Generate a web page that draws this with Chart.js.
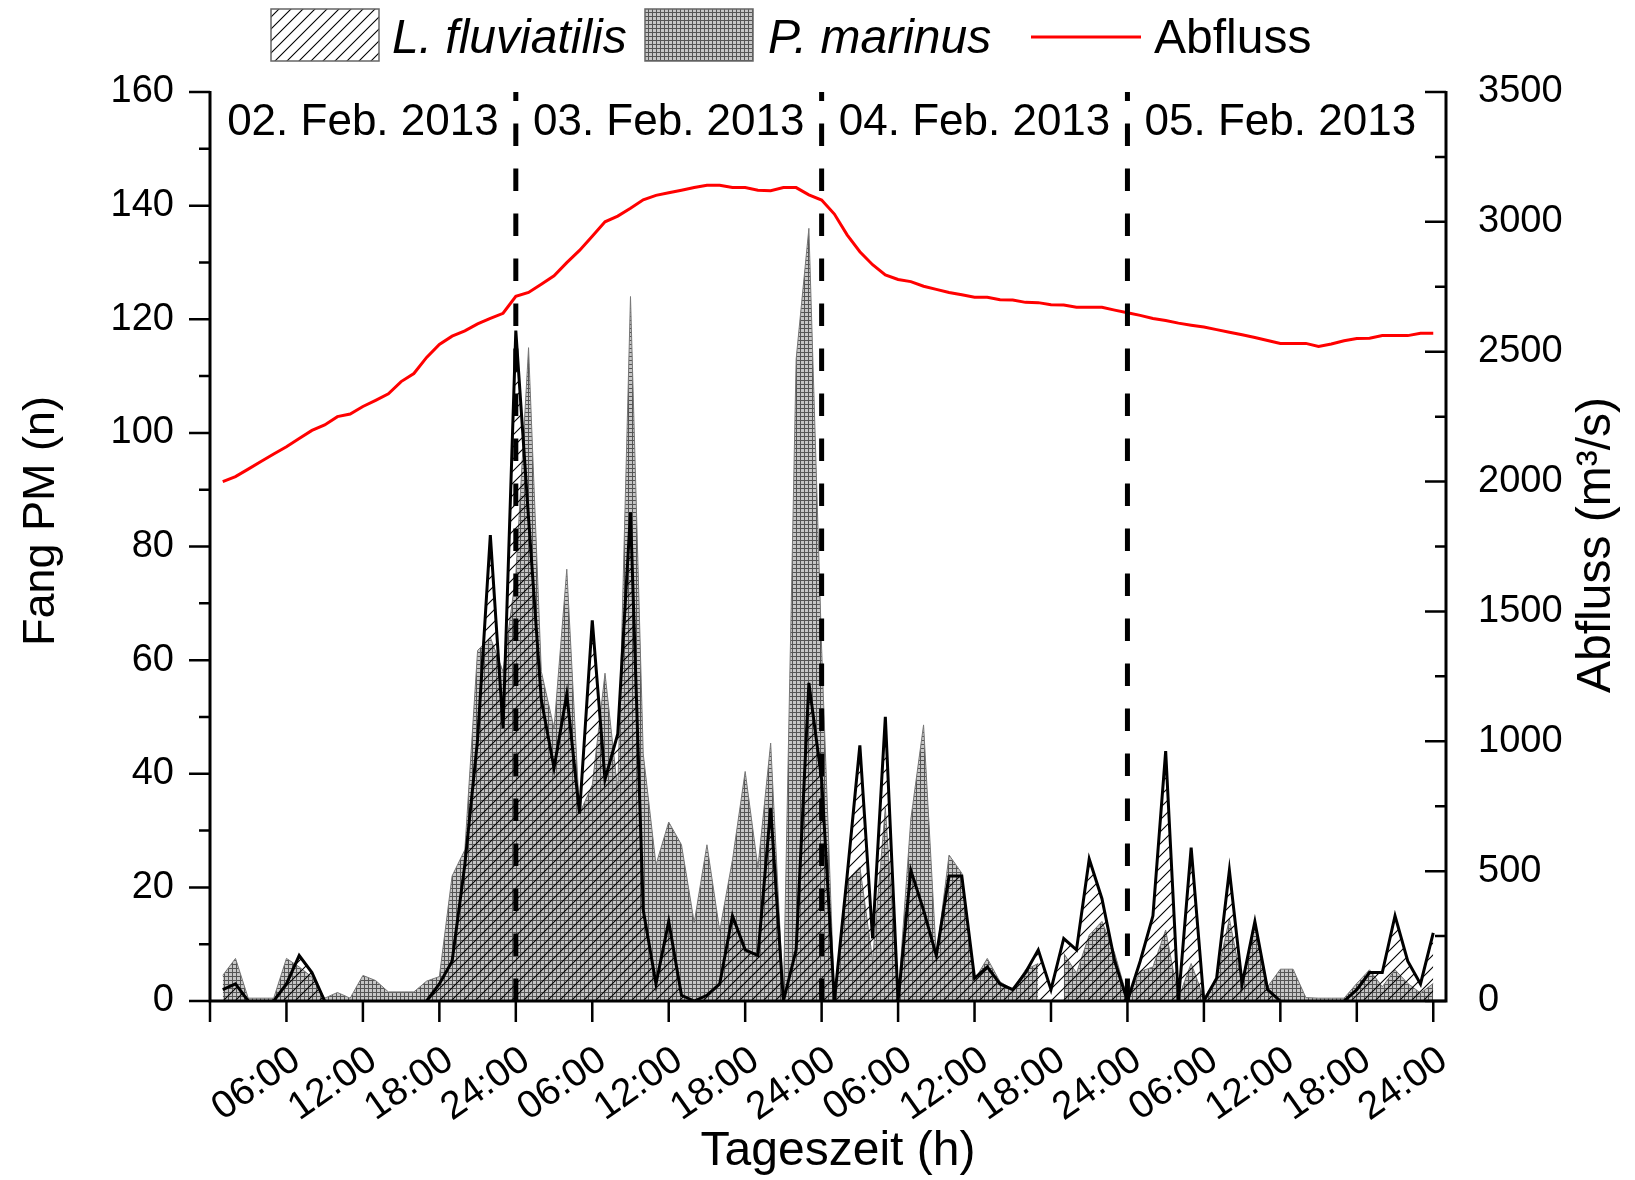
<!DOCTYPE html>
<html>
<head>
<meta charset="utf-8">
<title>Fang PM und Abfluss, 02.-05. Feb. 2013</title>
<script src="https://cdn.jsdelivr.net/npm/chart.js@4.4.1/dist/chart.umd.min.js"></script>
<style>
  body { margin: 0; background: #fff; }
  #wrap { width: 1635px; height: 1180px; position: relative; }
</style>
</head>
<body>
<div id="wrap"><canvas id="fangChart"></canvas></div>
<script>
// Stunde seit 02.02.2013 00:00
var hours = [1, 2, 3, 4, 5, 6, 7, 8, 9, 10, 11, 12, 13, 14, 15, 16, 17, 18, 19, 20, 21, 22, 23, 24,
             25, 26, 27, 28, 29, 30, 31, 32, 33, 34, 35, 36, 37, 38, 39, 40, 41, 42, 43, 44, 45, 46, 47, 48,
             49, 50, 51, 52, 53, 54, 55, 56, 57, 58, 59, 60, 61, 62, 63, 64, 65, 66, 67, 68, 69, 70, 71, 72,
             73, 74, 75, 76, 77, 78, 79, 80, 81, 82, 83, 84, 85, 86, 87, 88, 89, 90, 91, 92, 93, 94, 95, 96];

// Fang pro Stunde (n)
var lFluviatilis = [2, 3, 0, 0, 0, 3, 8, 5, 0, 0,
                    0, 0, 0, 0, 0, 0, 0, 3, 7, 24,
                    46, 82, 48, 118, 85, 53, 41, 54, 33, 67,
                    39, 47, 86, 16, 3, 14, 1, 0, 1, 3,
                    15, 9, 8, 34, 0, 9, 56, 39, 0, 22,
                    45, 11, 50, 0, 23, 16, 8, 22, 22, 4,
                    6, 3, 2, 5, 9, 2, 11, 9, 25, 18,
                    7, 0, 7, 15, 44, 0, 27, 0, 4, 23,
                    3, 14, 2, 0, 0, 0, 0, 0, 0, 2,
                    5, 5, 15, 7, 3, 12];

var pMarinus = [4.5, 7.5, 0.5, 0.5, 0.5, 7.5, 6, 4.2, 0.5, 1.5,
                0.5, 4.5, 3.6, 1.6, 1.6, 1.6, 3.5, 4.3, 22, 26.6,
                61.7, 64, 58, 75, 115, 58, 48, 76, 33, 38,
                57.7, 37, 124, 43.5, 24, 31.5, 27.5, 13.8, 27.5, 12.4,
                24.8, 40.4, 23.5, 45.4, 0.5, 113, 136, 62, 0.5, 21.3,
                23.6, 7.2, 34, 0.5, 32, 48.6, 7.8, 25.7, 22.5, 3.7,
                7.5, 3.4, 2, 5.5, 6.6, null, 8.4, 4.9, 11.6, 14,
                8.4, 0.5, 5.2, 6, 12.5, 0.5, 6.6, 0.5, 4, 14.5,
                2.8, 13.7, 2.5, 5.6, 5.6, 0.6, 0.5, 0.5, 0.5, 3.1,
                5.5, 2.5, 5.5, 3.1, 1.4, 3.1];

// Abfluss (m³/s)
var abfluss = [2000, 2019, 2048, 2077, 2106, 2134, 2166, 2197, 2218, 2250,
               2260, 2289, 2313, 2338, 2385, 2416, 2478, 2528, 2560, 2580,
               2607, 2628, 2648, 2713, 2728, 2760, 2792, 2843, 2890, 2945,
               3000, 3022, 3052, 3085, 3102, 3112, 3122, 3132, 3141, 3141,
               3132, 3132, 3122, 3120, 3132, 3132, 3104, 3084, 3030, 2950,
               2885, 2835, 2796, 2778, 2770, 2752, 2740, 2728, 2719, 2710,
               2710, 2700, 2699, 2690, 2689, 2681, 2680, 2671, 2671, 2671,
               2660, 2650, 2640, 2628, 2620, 2610, 2602, 2595, 2585, 2575,
               2565, 2555, 2543, 2532, 2532, 2532, 2520, 2530, 2542, 2551,
               2552, 2562, 2562, 2562, 2571, 2571];

var tickHours = [0, 6, 12, 18, 24, 30, 36, 42, 48, 54, 60, 66, 72, 78, 84, 90, 96];
var tickLabels = ['', '06:00', '12:00', '18:00', '24:00', '06:00', '12:00', '18:00', '24:00',
                  '06:00', '12:00', '18:00', '24:00', '06:00', '12:00', '18:00', '24:00'];
var dayLabels = ['02. Feb. 2013', '03. Feb. 2013', '04. Feb. 2013', '05. Feb. 2013'];
var dayCenters = [12, 36, 60, 84];
var dayBoundaries = [24, 48, 72];

var FONT = "'Liberation Sans', Arial, sans-serif";
Chart.defaults.font.family = FONT;
Chart.defaults.color = '#000';

var canvas = document.getElementById('fangChart');
var ctx = canvas.getContext('2d');

// diagonale Schraffur, transparent
function makeHatch() {
    var t = document.createElement('canvas');
    t.width = 12; t.height = 12;
    var g = t.getContext('2d');
    g.strokeStyle = '#000';
    g.lineWidth = 1.1;
    g.beginPath();
    g.moveTo(0, 12); g.lineTo(12, 0);
    g.moveTo(-2, 2); g.lineTo(2, -2);
    g.moveTo(10, 14); g.lineTo(14, 10);
    g.stroke();
    return ctx.createPattern(t, 'repeat');
}

// feines graues Raster
function makeGrid() {
    var t = document.createElement('canvas');
    t.width = 4; t.height = 4;
    var g = t.getContext('2d');
    g.fillStyle = '#c6c6c6';
    g.fillRect(0, 0, 4, 4);
    g.fillStyle = '#555555';
    g.fillRect(0, 0, 4, 1);
    g.fillRect(0, 0, 1, 4);
    return ctx.createPattern(t, 'repeat');
}

var hatch = makeHatch();
var grid = makeGrid();

function toPoints(values) {
    return values.map(function (v, i) { return { x: hours[i], y: v }; });
}

var extras = {
    id: 'extras',
    afterDatasetsDraw: function (chart) {
        var c = chart.ctx, a = chart.chartArea;
        var x = chart.scales.x, y = chart.scales.y, y1 = chart.scales.y1;
        c.save();
        c.strokeStyle = '#000';

        // Tagesgrenzen
        c.lineWidth = 5;
        c.setLineDash([22.5, 22.5]);
        dayBoundaries.forEach(function (h) {
            var px = x.getPixelForValue(h);
            c.beginPath();
            c.moveTo(px, a.bottom);
            c.lineTo(px, a.top);
            c.stroke();
        });
        c.setLineDash([]);

        // Achsen
        c.lineWidth = 3;
        c.beginPath();
        c.moveTo(a.left, a.top - 1);
        c.lineTo(a.left, a.bottom);
        c.lineTo(a.right, a.bottom);
        c.lineTo(a.right, a.top - 1);
        c.stroke();

        // Striche
        c.lineWidth = 2.5;
        c.beginPath();
        for (var v = 0; v <= 160; v += 10) {
            var py = y.getPixelForValue(v);
            c.moveTo(a.left - (v % 20 === 0 ? 21 : 11), py);
            c.lineTo(a.left, py);
        }
        for (var q = 0; q <= 3500; q += 250) {
            var qy = y1.getPixelForValue(q);
            c.moveTo(a.right - (q % 500 === 0 ? 21 : 11), qy);
            c.lineTo(a.right, qy);
        }
        tickHours.forEach(function (h) {
            var px = x.getPixelForValue(h);
            c.moveTo(px, a.bottom);
            c.lineTo(px, a.bottom + 21);
        });
        c.stroke();
        c.restore();
    },
    afterDraw: function (chart) {
        var c = chart.ctx, x = chart.scales.x;
        c.save();
        c.fillStyle = '#000';

        // Datum je Tag
        c.font = '44px ' + FONT;
        c.textAlign = 'center';
        c.textBaseline = 'alphabetic';
        dayLabels.forEach(function (t, i) {
            c.fillText(t, x.getPixelForValue(dayCenters[i]), 135);
        });

        // Achsentitel
        c.font = '48px ' + FONT;
        c.textBaseline = 'middle';
        c.fillText('Tageszeit (h)', 838, 1152);
        c.save();
        c.translate(42, 521);
        c.rotate(-Math.PI / 2);
        c.font = '45px ' + FONT;
        c.fillText('Fang PM (n)', 0, 0);
        c.restore();
        c.save();
        c.translate(1597, 545);
        c.rotate(-Math.PI / 2);
        c.font = '48px ' + FONT;
        c.fillText('Abfluss (m³/s)', 0, 0);
        c.restore();

        // Legende
        c.lineWidth = 1.5;
        c.fillStyle = '#fff';
        c.fillRect(271, 9, 108, 52);
        c.fillStyle = hatch;
        c.fillRect(271, 9, 108, 52);
        c.strokeStyle = '#666';
        c.strokeRect(271, 9, 108, 52);
        c.fillStyle = grid;
        c.fillRect(645, 9, 108, 52);
        c.strokeRect(645, 9, 108, 52);
        c.strokeStyle = '#ff0000';
        c.lineWidth = 3;
        c.beginPath();
        c.moveTo(1031, 37);
        c.lineTo(1141, 37);
        c.stroke();

        c.fillStyle = '#000';
        c.textAlign = 'left';
        c.textBaseline = 'alphabetic';
        c.font = 'italic 48px ' + FONT;
        c.fillText('L. fluviatilis', 392, 53);
        c.fillText('P. marinus', 768, 53);
        c.font = '48px ' + FONT;
        c.fillText('Abfluss', 1154, 53);
        c.restore();
    }
};

new Chart(ctx, {
    type: 'line',
    data: {
        datasets: [{
            label: 'Abfluss',
            data: toPoints(abfluss),
            yAxisID: 'y1',
            borderColor: '#ff0000',
            borderWidth: 3,
            pointRadius: 0,
            fill: false,
            order: 0
        }, {
            label: 'L. fluviatilis',
            data: toPoints(lFluviatilis),
            yAxisID: 'y',
            borderColor: '#000',
            borderWidth: 3,
            backgroundColor: hatch,
            fill: 'origin',
            pointRadius: 0,
            order: 1,
            segment: {
                borderColor: function (s) {
                    return (s.p0.parsed.y === 0 && s.p1.parsed.y === 0) ? 'rgba(0,0,0,0)' : undefined;
                }
            }
        }, {
            label: 'P. marinus',
            data: toPoints(pMarinus),
            yAxisID: 'y',
            borderColor: '#777777',
            borderWidth: 1,
            backgroundColor: grid,
            fill: 'origin',
            pointRadius: 0,
            spanGaps: false,
            order: 2
        }]
    },
    options: {
        responsive: true,
        maintainAspectRatio: false,
        animation: false,
        elements: {
            line: { tension: 0 }
        },
        layout: { padding: { top: 92, left: 0, right: 0, bottom: 0 } },
        plugins: {
            legend: { display: false },
            tooltip: { enabled: false }
        },
        scales: {
            x: {
                type: 'linear',
                min: 0,
                max: 97,
                grid: { display: false },
                border: { display: false },
                afterBuildTicks: function (s) {
                    s.ticks = tickHours.map(function (h) { return { value: h }; });
                },
                afterFit: function (s) { s.height = 179; },
                ticks: {
                    autoSkip: false,
                    minRotation: 35,
                    maxRotation: 35,
                    padding: 28,
                    labelOffset: 10,
                    font: { size: 39 },
                    callback: function (v, i) { return tickLabels[i]; }
                }
            },
            y: {
                position: 'left',
                min: 0,
                max: 160,
                grid: { display: false },
                border: { display: false },
                afterFit: function (s) { s.width = 210; },
                ticks: { stepSize: 20, padding: 28, font: { size: 38 } }
            },
            y1: {
                position: 'right',
                min: 0,
                max: 3500,
                grid: { display: false },
                border: { display: false },
                afterFit: function (s) { s.width = 189; },
                ticks: {
                    stepSize: 500,
                    padding: 24,
                    font: { size: 38 },
                    callback: function (v) { return String(v); }
                }
            }
        }
    },
    plugins: [extras]
});
</script>
</body>
</html>
